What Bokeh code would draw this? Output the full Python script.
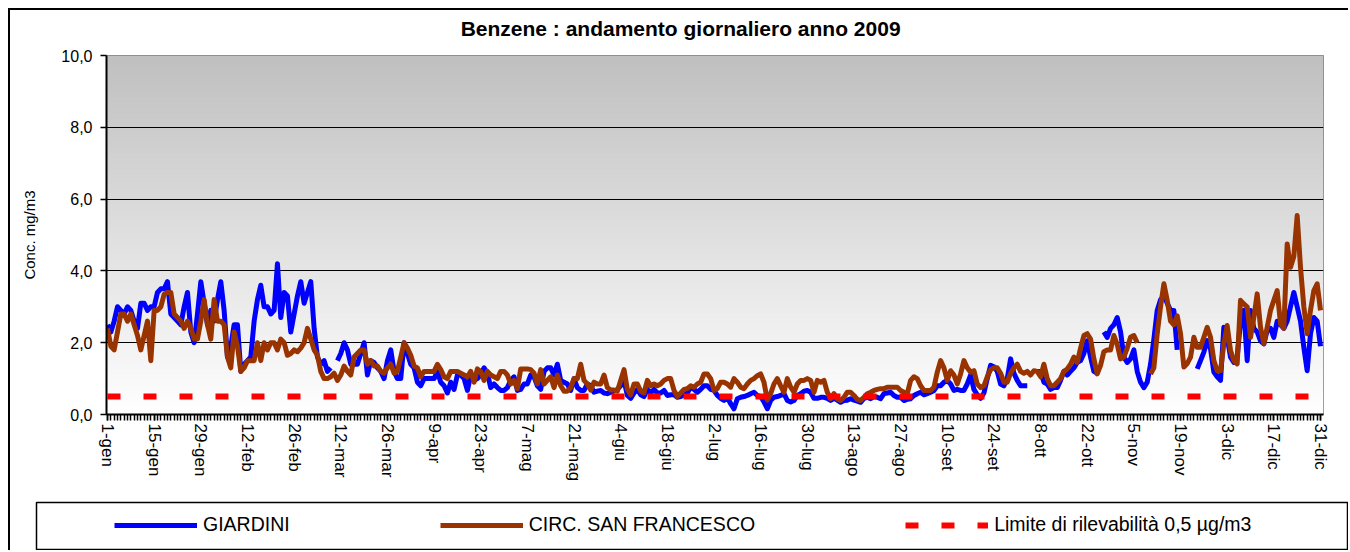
import numpy as np
from bokeh.plotting import figure
from bokeh.models import FixedTicker, Range1d, Legend, LegendItem, Plot
from bokeh.core.properties import value
from bokeh.layouts import column
from bokeh.embed import file_html
from bokeh.resources import INLINE

# ---------------- data ----------------
giardini = [
    2.5, 2.3, 2.6, 3.0, 2.9, 2.8, 3.0, 2.9, 2.6, 2.4,
    3.1, 3.1, 2.9, 3.0, 3.0, 3.4, 3.5, 3.5, 3.7, 2.8,
    2.7, 2.6, 2.5, 3.0, 3.4, 2.3, 2.0, 2.8, 3.7, 3.1,
    2.5, 2.9, 2.6, 3.2, 3.7, 2.9, 1.6, 1.9, 2.5, 2.5,
    1.2, 1.4, 1.5, 1.6, 2.6, 3.2, 3.6, 3.0, 3.0, 2.8,
    2.9, 4.2, 2.7, 3.4, 3.3, 2.3, 2.8, 3.3, 3.7, 3.1,
    3.4, 3.7, 2.4, 1.6, 1.4, 1.5, 1.2, 1.3, None, 1.5,
    1.7, 2.0, 1.8, 1.4, 1.4, 1.4, 1.7, 2.0, 1.1, 1.5,
    1.45, 1.3, 1.2, 1.0, 1.5, 1.8, 1.2, 1.0, 1.0, 2.0,
    1.7, 1.4, 1.3, 0.9, 0.8, 1.0, 1.0, 1.0, 1.0, 1.2,
    0.9, 0.8, 0.6, 0.9, 0.7, 1.1, 1.1, 1.0, 0.67, 1.1,
    0.95, 1.0, 1.1, 1.3, 1.15, 0.75, 0.85, 0.75, 0.67, 0.67,
    0.75, 0.95, 1.05, 0.67, 0.7, 0.85, 0.85, 1.1, 1.05, 0.8,
    0.7, 1.2, 1.3, 1.3, 1.1, 1.4, 0.95, 0.9, 0.85, 0.67,
    1.0, 0.75, 0.67, 0.67, 0.85, 0.8, 0.62, 0.65, 0.67, 0.6,
    0.58, 0.62, 0.65, 0.7, 0.8, 0.95, 0.53, 0.45, 0.6, 0.7,
    0.55, 0.5, 0.7, 0.6, 0.7, 0.6, 0.6, 0.67, 0.53, 0.55,
    0.55, 0.48, 0.5, 0.55, 0.6, 0.76, 0.7, 0.62, 0.7, 0.8,
    0.8, 0.7, 0.67, 0.53, 0.45, 0.39, 0.48, 0.3, 0.16, 0.44,
    0.48, 0.5, 0.53, 0.58, 0.62, 0.53, 0.5, 0.35, 0.16, 0.39,
    0.48, 0.5, 0.53, 0.58, 0.39, 0.35, 0.39, 0.53, 0.58, 0.65,
    0.67, 0.62, 0.45, 0.45, 0.48, 0.48, 0.45, 0.39, 0.45, 0.4,
    0.34, 0.39, 0.4, 0.44, 0.4, 0.37, 0.34, 0.45, 0.48, 0.44,
    0.5, 0.48, 0.44, 0.58, 0.6, 0.62, 0.53, 0.48, 0.48, 0.39,
    0.42, 0.44, 0.53, 0.58, 0.62, 0.55, 0.58, 0.62, 0.67, 0.8,
    0.8, 0.9, 0.95, 0.85, 0.67, 0.7, 0.67, 0.67, 0.85, 1.1,
    0.7, 0.55, 0.45, 0.6, 1.0, 1.37, 1.33, 1.2, 0.85, 0.8,
    1.0, 1.55, 1.15, 0.95, 0.8, 0.8, 0.8, None, None, 1.2,
    1.2, 0.9, 0.85, 0.7, 0.75, 0.75, 0.95, 1.2, 1.1, 1.2,
    1.3, 1.45, 1.5, 1.7, 2.05, 1.6, 1.2, 1.15, None, 2.3,
    2.15, 2.4, 2.5, 2.7, 2.3, 1.6, 1.45, 1.55, 1.8, 1.2,
    0.9, 0.75, 0.9, 1.4, 2.1, 2.9, 3.2, 3.3, 3.1, 2.9,
    2.9, 1.8, None, None, None, None, None, 1.27, 1.5, 1.74,
    2.06, 1.83, 1.18, 1.05, 0.95, 2.43, 2.15, 1.6, 1.45, 1.6,
    2.6, 2.9, 1.5, 2.9, 2.4, 2.3, 2.05, 1.97, 2.34, 2.4,
    2.15, 2.6, 2.5, 2.4, 2.6, 3.0, 3.4, 3.0, 2.6, 1.87,
    1.22, 2.25, 2.7, 2.6, 1.9,
]

san_francesco = [
    2.4, 1.9, 1.8, 2.3, 2.8, 2.8, 2.6, 2.8, 2.5, 2.2,
    1.8, 2.2, 2.6, 1.5, 2.9, 2.9, 3.0, 3.35, 3.4, 3.4,
    2.8, 2.7, 2.6, 2.4, 2.6, 2.4, 2.1, 2.1, 2.6, 3.2,
    2.5, 2.1, 3.2, 2.6, 2.6, 2.5, 1.6, 1.3, 2.3, 1.9,
    1.2, 1.3, 1.5, 1.5, 1.5, 2.0, 1.5, 2.0, 1.8, 2.0,
    2.0, 1.8, 2.1, 2.0, 1.65, 1.7, 1.8, 1.75, 1.85, 2.0,
    2.4, 2.1, 1.8, 1.65, 1.2, 1.0, 1.0, 1.05, 1.15, 0.95,
    1.1, 1.35, 1.2, 1.1, 1.6, 1.7, 1.8, 1.8, 1.4, 1.5,
    1.35, 1.35, 1.2, 1.15, 1.3, 1.4, 1.15, 1.2, 1.6, 2.0,
    1.85, 1.65, 1.35, 1.3, 1.05, 1.2, 1.2, 1.2, 1.2, 1.4,
    1.25, 1.05, 1.0, 1.2, 1.2, 1.2, 1.15, 1.1, 1.05, 1.2,
    0.9, 1.27, 1.2, 0.95, 1.2, 1.1, 1.05, 1.0, 1.2, 1.2,
    1.1, 0.85, 0.95, 0.72, 1.27, 1.27, 1.27, 1.25, 1.15, 0.85,
    1.25, 0.85, 0.95, 1.05, 0.75, 1.1, 0.8, 0.65, 0.65, 0.75,
    1.0, 1.0, 1.4, 0.95, 0.85, 0.68, 0.9, 0.85, 0.85, 1.1,
    0.75, 0.68, 0.68, 0.65, 0.95, 1.25, 0.7, 0.55, 0.85, 0.85,
    0.65, 0.6, 0.95, 0.8, 0.85, 0.8, 0.85, 0.95, 1.0, 1.0,
    0.67, 0.5, 0.6, 0.7, 0.72, 0.8, 0.76, 0.85, 0.9, 1.13,
    1.13, 1.0, 0.67, 0.72, 0.9, 0.9, 0.85, 0.76, 1.0, 0.9,
    0.76, 0.72, 0.85, 0.95, 1.0, 1.08, 1.13, 0.9, 0.4, 0.58,
    0.85, 1.0, 0.8, 0.62, 1.0, 0.76, 0.62, 0.85, 0.95, 0.95,
    1.0, 0.95, 0.62, 0.95, 0.9, 0.95, 0.62, 0.44, 0.58, 0.44,
    0.39, 0.48, 0.62, 0.62, 0.53, 0.42, 0.39, 0.48, 0.58, 0.62,
    0.67, 0.7, 0.72, 0.72, 0.76, 0.76, 0.76, 0.76, 0.67, 0.62,
    0.58, 0.95, 1.05, 1.0, 0.8, 0.67, 0.67, 0.67, 0.76, 1.18,
    1.5, 1.3, 0.95, 1.22, 1.1, 0.85, 1.13, 1.5, 1.3, 1.18,
    1.22, 0.85, 0.75, 0.8, 1.05, 1.25, 1.3, 1.3, 1.15, 0.9,
    0.9, 1.15, 1.3, 1.4, 1.2, 1.15, 1.2, 1.1, 1.22, 1.2,
    1.05, 1.4, 1.0, 0.8, 0.8, 0.9, 1.0, 1.2, 1.27, 1.4,
    1.6, 1.45, 1.85, 2.2, 2.25, 2.1, 1.55, 1.13, 1.37, 1.75,
    1.8, 1.8, 2.2, 1.95, 1.55, 1.6, 1.85, 2.15, 2.2, 2.0,
    None, None, None, 1.13, 1.3, 2.25, 3.0, 3.64, 3.18, 2.6,
    2.5, 2.75, 2.25, 1.32, 1.42, 1.6, 2.15, 1.87, 1.87, 2.15,
    2.43, 2.15, 1.5, 1.22, 1.22, 1.97, 2.48, 1.78, 1.5, 1.41,
    3.18, 3.08, 3.0, 2.15, 2.7, 3.36, 2.43, 1.97, 2.43, 2.9,
    3.18, 3.45, 2.53, 2.4, 4.75, 4.1, 4.4, 5.54, 4.1, 3.0,
    2.25, 2.9, 3.45, 3.64, 2.9,
]

limite = 0.5

tick_days = [1, 15, 29, 43, 57, 71, 85, 99, 113, 127, 141, 155, 169, 183,
             197, 211, 225, 239, 253, 267, 281, 295, 309, 323, 337, 351, 365]
tick_labels = ["1-gen", "15-gen", "29-gen", "12-feb", "26-feb", "12-mar",
               "26-mar", "9-apr", "23-apr", "7-mag", "21-mag", "4-giu",
               "18-giu", "2-lug", "16-lug", "30-lug", "13-ago", "27-ago",
               "10-set", "24-set", "8-ott", "22-ott", "5-nov", "19-nov",
               "3-dic", "17-dic", "31-dic"]
y_ticks = [0, 2, 4, 6, 8, 10]
y_tick_labels = ["0,0", "2,0", "4,0", "6,0", "8,0", "10,0"]

title_text = "Benzene : andamento giornaliero  anno 2009"
series_names = ["GIARDINI", "CIRC. SAN FRANCESCO", "Limite di rilevabilità 0,5 µg/m3"]

# ---------------- styles ----------------
FONT = "Liberation Sans"
BLUE = "#0000ff"
BROWN = "#993300"
RED = "#ff0000"

g_vals = np.array(giardini, dtype=float)
s_vals = np.array(san_francesco, dtype=float)
g_days = np.arange(1, len(g_vals) + 1)
s_days = np.arange(1, len(s_vals) + 1)
all_days = list(range(1, 366))

X0, X1 = 0.7, 365.9
W = 1338
HAS_FA = "frame_align" in Plot.properties()

# ---------------- title strip ----------------
tf = figure(width=W, height=37, x_range=Range1d(0, 1), y_range=Range1d(0, 1),
            output_backend="svg", toolbar_location=None, title=None,
            x_axis_location=None, y_axis_location=None,
            min_border_left=0, min_border_right=0, min_border_top=0, min_border_bottom=0)
tf.grid.visible = False
tf.outline_line_color = None
tf.background_fill_color = "white"
tf.border_fill_color = "white"
tf.text(x=[0.503], y=[0.51], text=[title_text], text_align="center", text_baseline="middle",
        text_font=value(FONT), text_font_size="21px", text_font_style="bold",
        text_color="black")

# ---------------- main chart ----------------
p = figure(width=W, height=451, x_range=Range1d(X0, X1), y_range=Range1d(0, 10),
           output_backend="svg", toolbar_location=None, title=None,
           min_border_left=96, min_border_right=25, min_border_top=8, min_border_bottom=84)

# background gradient (style only)
n = 256
grey = np.linspace(255, 192, n).astype(np.uint8)
img = np.empty((n, 1), dtype=np.uint32)
view = img.view(dtype=np.uint8).reshape((n, 1, 4))
view[:, 0, 0] = grey
view[:, 0, 1] = grey
view[:, 0, 2] = grey
view[:, 0, 3] = 255
p.image_rgba(image=[img], x=X0, y=0, dw=X1 - X0, dh=10, level="image")

p.background_fill_color = "white"
p.border_fill_color = "white"
p.outline_line_color = "#808080"
p.outline_line_width = 1

# grid
p.xgrid.visible = False
p.ygrid.ticker = FixedTicker(ticks=[2, 4, 6, 8])
p.ygrid.grid_line_color = "black"
p.ygrid.grid_line_width = 1

# y axis
ya = p.yaxis[0]
ya.ticker = FixedTicker(ticks=y_ticks)
ya.major_label_overrides = {t: l for t, l in zip(y_ticks, y_tick_labels)}
ya.axis_label = "Conc. mg/m3"
ya.axis_label_text_font = FONT
ya.axis_label_text_font_size = "15px"
ya.axis_label_text_font_style = "normal"
ya.axis_label_text_color = "black"
ya.axis_label_standoff = 20
ya.major_label_text_font = FONT
ya.major_label_text_font_size = "16px"
ya.major_label_text_color = "black"
ya.major_label_standoff = 8
ya.axis_line_color = "black"
ya.axis_line_width = 2
ya.major_tick_line_color = "black"
ya.major_tick_line_width = 1.5
ya.major_tick_in = 0
ya.major_tick_out = 6
ya.minor_tick_line_color = None

# x axis
xa = p.xaxis[0]
xa.ticker = FixedTicker(ticks=tick_days, minor_ticks=all_days)
xa.major_label_overrides = {d: l for d, l in zip(tick_days, tick_labels)}
xa.major_label_orientation = "vertical"
xa.major_label_text_font = FONT
xa.major_label_text_font_size = "17px"
xa.major_label_text_color = "black"
xa.major_label_standoff = 3
xa.axis_line_color = "black"
xa.axis_line_width = 2
xa.major_tick_line_color = "black"
xa.major_tick_line_width = 1.5
xa.major_tick_in = 0
xa.major_tick_out = 6
xa.minor_tick_line_color = "black"
xa.minor_tick_line_width = 1.5
xa.minor_tick_in = 0
xa.minor_tick_out = 6

# data lines
p.line(g_days, g_vals, line_color=BLUE, line_width=5, line_join="round")
p.line(s_days, s_vals, line_color=BROWN, line_width=5, line_join="round")
p.line([all_days[0], all_days[-1]], [limite, limite], line_color=RED, line_width=6,
       line_dash="13 23")

# ---------------- legend figure ----------------
lg = figure(width=W, height=52, x_range=Range1d(0, 1), y_range=Range1d(0, 1),
            output_backend="svg", toolbar_location=None,
            x_axis_location=None, y_axis_location=None,
            min_border_left=26, min_border_right=1, min_border_top=4, min_border_bottom=0)
lg.grid.visible = False
lg.outline_line_color = "black"
lg.outline_line_width = 1.5
lg.background_fill_color = "white"
lg.border_fill_color = "white"

if HAS_FA:
    tf.frame_align = False
    p.frame_align = False
    lg.frame_align = False

# legend proxies (kept outside the visible range of the legend box)
r1 = lg.line([5, 6], [5, 6], line_color=BLUE, line_width=5)
r2 = lg.line([5, 6], [5, 6], line_color=BROWN, line_width=5)
r3 = lg.line([5, 6], [5, 6], line_color=RED, line_width=6, line_dash="13 23")

legend = Legend(items=[LegendItem(label=series_names[0], renderers=[r1]),
                       LegendItem(label=series_names[1], renderers=[r2]),
                       LegendItem(label=series_names[2], renderers=[r3])],
                orientation="horizontal", location=(78, 14), spacing=150,
                glyph_width=83, glyph_height=20, label_height=20, label_standoff=6,
                padding=0, margin=0, border_line_alpha=0, background_fill_alpha=0,
                label_text_font=FONT, label_text_font_size="19.5px",
                label_text_color="black")
lg.add_layout(legend)

layout = column(tf, p, lg, styles={"border-left": "2px solid black",
                                   "border-top": "2px solid black",
                                   "margin": "8px 0 0 8px"})

open("out.html", "w").write(file_html(layout, INLINE))
